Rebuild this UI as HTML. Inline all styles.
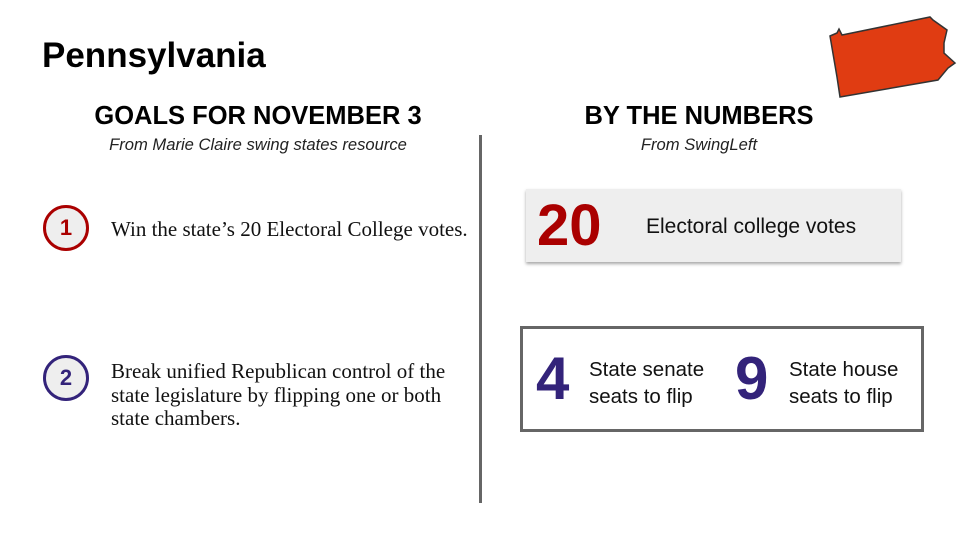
<!DOCTYPE html>
<html><head><meta charset="utf-8"><style>
body{margin:0;width:960px;height:540px;background:#fff;position:relative;overflow:hidden;font-family:"Liberation Sans",sans-serif}
.a{position:absolute;white-space:nowrap}
.h{font-weight:bold;font-size:25.5px;color:#000;text-align:center}
.sub{font-style:italic;font-size:16.6px;color:#222;text-align:center}
.circ{position:absolute;width:46px;height:46px;border-radius:50%;background:#eee;border:3px solid;box-sizing:border-box;text-align:center;line-height:40px;font-weight:bold;font-size:22px}
.body{font-family:"Liberation Serif",serif;font-size:21px;color:#111;line-height:23.5px}
</style></head><body>
<div class="a" style="left:42px;top:36px;font-size:35px;font-weight:bold">Pennsylvania</div>
<svg class="a" style="left:0;top:0" width="960" height="540">
<polygon points="830,36 837,33 839,29 842,35 930,17 933,20 947,30 944,43 944,53 955,63 948,68 938,80 840,97 837,77" fill="#e03c12" stroke="#333" stroke-width="1.5"/>
</svg>
<div class="a h" style="left:58px;width:400px;top:102px">GOALS FOR NOVEMBER 3</div>
<div class="a sub" style="left:58px;width:400px;top:135px">From Marie Claire swing states resource</div>
<div class="a h" style="left:499px;width:400px;top:102px">BY THE NUMBERS</div>
<div class="a sub" style="left:499px;width:400px;top:135px">From SwingLeft</div>
<div class="a" style="left:479px;top:135px;width:3px;height:368px;background:#666"></div>
<div class="circ" style="left:43px;top:205px;border-color:#a00;color:#a00">1</div>
<div class="a body" style="left:111px;top:218px">Win the state’s 20 Electoral College votes.</div>
<div class="circ" style="left:43px;top:355px;border-color:#33237a;color:#33237a">2</div>
<div class="a body" style="left:111px;top:360px">Break unified Republican control of the<br>state legislature by flipping one or both<br>state chambers.</div>
<div class="a" style="left:526px;top:189px;width:375px;height:73px;background:#eee;box-shadow:0 2px 3px rgba(0,0,0,.35)"></div>
<div class="a" style="left:537px;top:191px;font-size:58px;font-weight:bold;color:#a00;line-height:70px">20</div>
<div class="a" style="left:646px;top:215px;font-size:21px;color:#111">Electoral college votes</div>
<div class="a" style="left:520px;top:326px;width:404px;height:106px;border:3px solid #666;box-sizing:border-box"></div>
<div class="a" style="left:536px;top:344px;font-size:60px;font-weight:bold;color:#33237a;line-height:70px">4</div>
<div class="a" style="left:589px;top:356px;font-size:20.5px;color:#111;line-height:27px">State senate<br>seats to flip</div>
<div class="a" style="left:735px;top:344px;font-size:60px;font-weight:bold;color:#33237a;line-height:70px">9</div>
<div class="a" style="left:789px;top:356px;font-size:20.5px;color:#111;line-height:27px">State house<br>seats to flip</div>
</body></html>
